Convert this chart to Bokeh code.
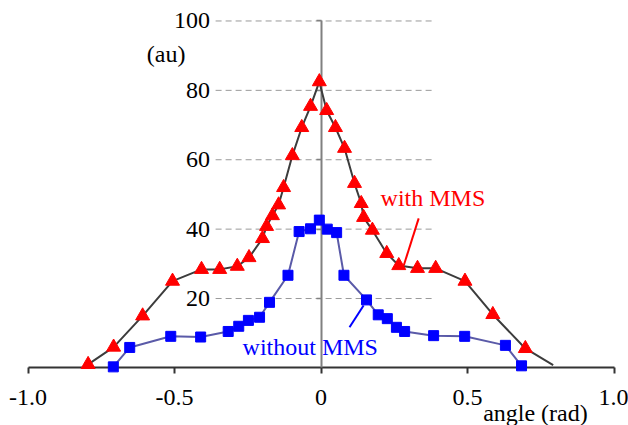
from bokeh.plotting import figure
from bokeh.models import LinearAxis, FixedTicker, Range1d
from bokeh.embed import file_html
from bokeh.resources import INLINE
from bokeh.core.properties import value

# ---- data ----
WITH_X = [-0.795, -0.708, -0.609, -0.507, -0.408, -0.346, -0.286, -0.246, -0.200, -0.186,
          -0.166, -0.145, -0.128, -0.098, -0.066, -0.036, -0.006, 0.019, 0.049, 0.080,
          0.114, 0.137, 0.145, 0.175, 0.224, 0.265, 0.329, 0.391, 0.491, 0.586, 0.697]
WITH_Y = [1.0, 6.0, 15.0, 25.0, 28.4, 28.4, 29.3, 31.8, 37.3, 40.8,
          43.9, 47.0, 52.0, 61.2, 69.3, 75.4, 82.5, 74.2, 69.3, 63.3,
          53.2, 47.4, 43.4, 39.7, 33.0, 29.5, 28.7, 28.7, 25.0, 15.4, 5.6]
WITH_END_X = 0.792
WITH_END_Y = 0.8

WITHOUT_X = [-0.709, -0.653, -0.513, -0.411, -0.317, -0.281, -0.248, -0.210, -0.176, -0.113,
             -0.075, -0.036, -0.006, 0.021, 0.053, 0.078, 0.155, 0.195, 0.226, 0.257,
             0.285, 0.384, 0.490, 0.629, 0.684]
WITHOUT_Y = [0.3, 5.9, 9.1, 8.9, 10.5, 12.0, 13.7, 14.6, 18.9, 26.7,
             39.3, 40.1, 42.6, 40.0, 39.0, 26.7, 19.6, 15.3, 14.2, 11.7,
             10.5, 9.3, 9.1, 6.5, 0.6]

X_TICKS = [-1.0, -0.5, 0.0, 0.5, 1.0]
X_TICK_LABELS = ["-1.0", "-0.5", "0", "0.5", "1.0"]
Y_TICKS = [20, 40, 60, 80, 100]
Y_TICK_LABELS = ["20", "40", "60", "80", "100"]

FONT = "Liberation Serif"

p = figure(width=628, height=425,
           x_range=Range1d(-1.094, 1.049), y_range=Range1d(-16.6, 105.9),
           output_backend="svg", toolbar_location=None,
           x_axis_type=None, y_axis_type=None, min_border=0)
p.outline_line_color = None
p.background_fill_color = "white"

# dashed gridlines (limited span like the original)
GRID_X0, GRID_X1 = -0.36, 0.39
p.segment(x0=GRID_X0, y0=Y_TICKS, x1=GRID_X1, y1=Y_TICKS,
          line_color="#9a9a9a", line_width=1, line_dash="6 4", level="underlay")

# axes crossing at the origin
xaxis = LinearAxis(fixed_location=0, bounds=(-1.0, 1.0),
                   ticker=FixedTicker(ticks=X_TICKS),
                   major_label_overrides=dict(zip(X_TICKS, X_TICK_LABELS)),
                   axis_line_width=2, axis_line_color="#333333",
                   major_tick_in=0, major_tick_out=6,
                   major_tick_line_width=2, major_tick_line_color="#333333",
                   minor_tick_line_color=None,
                   major_label_text_font=FONT, major_label_text_font_size="24px",
                   major_label_text_color="black", major_label_standoff=16)
xaxis.level = "underlay"
p.add_layout(xaxis, "below")

yaxis = LinearAxis(fixed_location=0, bounds=(0, 100),
                   ticker=FixedTicker(ticks=Y_TICKS),
                   major_label_overrides=dict(zip(Y_TICKS, Y_TICK_LABELS)),
                   axis_line_width=2, axis_line_color="#808080",
                   major_tick_in=0, major_tick_out=5,
                   major_tick_line_width=1.5, major_tick_line_color="#808080",
                   minor_tick_line_color=None,
                   major_label_text_font=FONT, major_label_text_font_size="24px",
                   major_label_text_color="black", major_label_standoff=106)
yaxis.level = "underlay"
p.add_layout(yaxis, "left")

# series lines
p.line(WITH_X + [WITH_END_X], WITH_Y + [WITH_END_Y], line_color="#3c3c3c", line_width=2)
p.line(WITHOUT_X, WITHOUT_Y, line_color="#5a5aa8", line_width=2)

# markers
p.scatter(WITHOUT_X, WITHOUT_Y, marker="square", size=10, fill_color="#0000ff",
          line_color="#0000ff")
p.scatter(WITH_X, WITH_Y, marker="triangle", size=14, fill_color="#ff0000",
          line_color="#ff0000")

# leader lines for labels
p.segment(x0=[0.333], y0=[43.1], x1=[0.282], y1=[29.5], line_color="#ff0000", line_width=2)
p.segment(x0=[0.145], y0=[18.0], x1=[0.097], y1=[11.7], line_color="#0000ff", line_width=2)

# texts
p.text(x=[0.203], y=[49.1], text=["with MMS"], text_color="#ff0000",
       text_font=value(FONT), text_font_size="24px", text_baseline="middle")
p.text(x=[-0.268], y=[5.9], text=["without MMS"], text_color="#0000ff",
       text_font=value(FONT), text_font_size="24px", text_baseline="middle")
p.text(x=[-0.595], y=[90.6], text=["(au)"], text_color="black",
       text_font=value(FONT), text_font_size="24px", text_baseline="middle")
p.text(x=[0.553], y=[-13.1], text=["angle (rad)"], text_color="black",
       text_font=value(FONT), text_font_size="24px", text_baseline="middle")

open("out.html", "w").write(file_html(p, INLINE))
